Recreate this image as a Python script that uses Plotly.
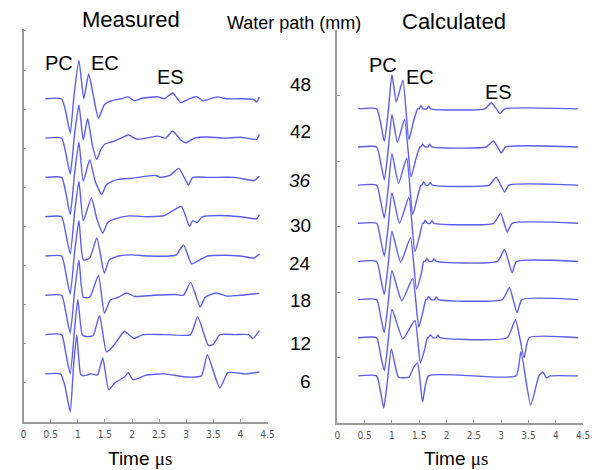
import plotly.graph_objects as go

# ---------------- data (time in microseconds, amplitude in units of trace spacing) ----------------
path_labels = ["6", "12", "18", "24", "30", "<i>36</i>", "42", "48"]
tick_vals = [0, 0.5, 1, 1.5, 2, 2.5, 3, 3.5, 4, 4.5]
tick_text = ["0", "0.5", "1", "1.5", "2", "2.5", "3", "3.5", "4", "4.5"]

# Measured
mt6 = [0.40,0.68,0.76,0.86,0.92,0.98,1.05,1.10,1.25,1.36,1.46,1.57,1.68,1.86,1.93,2.02,2.26,2.60,3.02,3.28,3.39,3.62,3.77,4.10,4.35]
ma6 = [0,0,-0.30,-0.97,0.20,1.00,0.00,-0.05,0.00,-0.03,0.41,-0.41,-0.23,-0.08,0.03,-0.15,-0.03,0.00,-0.08,-0.05,0.49,-0.36,0.03,0.00,0.05]
mt12 = [0.40,0.70,0.78,0.86,0.94,1.00,1.08,1.15,1.28,1.40,1.53,1.66,1.86,2.04,2.20,2.60,3.08,3.21,3.41,3.50,3.62,3.90,4.15,4.23,4.35]
ma12 = [0,0,-0.50,-1.00,0.15,0.90,0.00,-0.05,-0.03,0.49,-0.44,-0.28,0.08,-0.10,0.00,0.00,0.00,0.46,-0.28,-0.25,0.00,0.00,0.00,-0.10,0.10]
mt18 = [0.40,0.70,0.78,0.86,0.94,1.02,1.10,1.22,1.38,1.49,1.60,1.75,1.90,2.05,2.40,2.80,2.95,3.08,3.26,3.35,3.55,3.75,4.00,4.35]
ma18 = [0,0,-0.45,-0.97,0.10,0.90,-0.05,-0.05,0.51,-0.46,-0.12,-0.05,0.06,-0.03,0.00,0.02,0.00,0.33,-0.30,-0.05,0.06,-0.02,0.00,0.05]
mt24 = [0.40,0.70,0.78,0.86,0.94,1.02,1.10,1.22,1.35,1.49,1.58,1.75,2.00,2.30,2.70,2.82,2.95,3.10,3.25,3.40,3.70,4.00,4.25,4.35]
ma24 = [0,0,-0.45,-0.97,0.10,0.90,-0.10,-0.05,0.46,-0.44,-0.10,0.00,0.03,0.00,0.00,0.03,0.28,-0.20,-0.10,0.00,0.02,0.00,-0.05,0.05]
mt30 = [0.40,0.70,0.78,0.86,0.94,1.02,1.10,1.25,1.35,1.46,1.55,1.70,1.95,2.30,2.60,2.91,3.06,3.12,3.20,3.30,3.60,4.00,4.30,4.35]
ma30 = [0,0,-0.45,-0.95,0.10,0.90,-0.10,0.48,-0.05,-0.42,-0.15,-0.05,0.02,0.00,0.03,0.26,-0.25,-0.10,-0.15,0.00,0.03,0.00,-0.05,0.05]
mt36 = [0.40,0.70,0.78,0.86,0.94,1.02,1.10,1.22,1.32,1.44,1.52,1.63,1.75,2.00,2.44,2.52,2.70,2.86,3.00,3.04,3.12,3.40,3.90,4.25,4.35]
ma36 = [0,0,-0.40,-0.95,0.10,0.90,-0.10,0.45,-0.10,-0.44,-0.20,-0.10,-0.05,-0.02,0.05,0.00,0.05,0.23,-0.10,-0.20,0.00,0.00,0.00,-0.08,0.03]
mt42 = [0.40,0.70,0.78,0.86,0.94,1.02,1.10,1.18,1.27,1.35,1.42,1.50,1.62,1.80,1.93,2.10,2.48,2.62,2.75,2.90,2.99,3.15,3.40,3.70,4.00,4.30,4.35]
ma42 = [0,0,-0.40,-0.92,0.10,0.85,-0.05,0.50,-0.20,-0.55,-0.30,-0.15,-0.10,0.00,0.08,-0.03,0.05,0.00,0.18,-0.05,-0.12,0.00,0.03,0.00,0.02,-0.03,0.10]
mt48 = [0.40,0.70,0.78,0.86,0.93,1.02,1.11,1.20,1.29,1.38,1.49,1.62,1.80,1.93,2.04,2.20,2.48,2.60,2.75,2.90,3.05,3.20,3.31,3.57,3.75,4.00,4.25,4.30,4.35]
ma48 = [0,0,-0.35,-0.88,0.10,0.98,0.00,0.64,0.05,-0.50,-0.15,-0.05,0.00,0.05,-0.05,0.02,0.05,0.00,0.15,-0.10,0.00,0.05,-0.05,0.05,0.00,0.00,-0.02,-0.08,0.05]

# Calculated
ct6 = [0.38,0.72,0.79,0.85,0.92,0.99,1.12,1.31,1.40,1.47,1.56,1.67,3.27,3.36,3.54,3.69,3.76,3.83,3.90,4.41]
ca6 = [0,0,-0.40,-0.84,-0.10,0.70,-0.03,-0.03,0.23,0.34,-0.68,0.00,0.00,0.63,-0.76,0.00,0.10,-0.05,0.00,0.00]
ct12 = [0.38,0.72,0.79,0.86,0.93,1.00,1.20,1.42,1.52,1.60,1.65,1.67,1.70,1.75,1.81,1.84,1.88,3.11,3.26,3.42,3.51,4.41]
ca12 = [0,0,-0.44,-0.86,-0.10,0.74,-0.03,0.45,-0.66,-0.30,0.00,0.00,0.08,0.00,0.00,0.07,0.00,0.00,0.47,-0.52,0.00,0.00]
ct18 = [0.38,0.72,0.79,0.86,0.93,1.00,1.18,1.38,1.49,1.57,1.62,1.64,1.67,1.72,1.78,1.81,1.85,3.02,3.15,3.29,3.38,4.41]
ca18 = [0,0,-0.42,-0.86,-0.10,0.76,-0.03,0.55,-0.72,-0.30,0.00,0.00,0.08,0.00,0.00,0.07,0.00,0.00,0.31,-0.34,0.00,0.00]
ct24 = [0.38,0.72,0.79,0.86,0.93,1.00,1.16,1.34,1.45,1.54,1.58,1.61,1.64,1.68,1.74,1.77,1.81,2.93,3.06,3.20,3.28,4.41]
ca24 = [0,0,-0.42,-0.86,-0.10,0.78,-0.02,0.62,-0.72,-0.30,0.00,0.00,0.08,0.00,0.00,0.07,0.00,0.00,0.31,-0.29,0.00,0.00]
ct30 = [0.38,0.72,0.79,0.86,0.93,1.00,1.14,1.31,1.42,1.51,1.56,1.58,1.61,1.65,1.70,1.73,1.77,2.86,2.99,3.11,3.20,4.41]
ca30 = [0,0,-0.40,-0.86,-0.10,0.80,0.00,0.68,-0.74,-0.30,0.00,0.00,0.08,0.00,0.00,0.07,0.00,0.00,0.26,-0.23,0.00,0.00]
ct36 = [0.38,0.72,0.79,0.86,0.93,1.00,1.12,1.27,1.38,1.47,1.53,1.55,1.58,1.62,1.67,1.70,1.74,2.78,2.91,3.06,3.14,4.41]
ca36 = [0,0,-0.40,-0.86,-0.10,0.82,0.05,0.70,-0.76,-0.30,0.00,0.00,0.08,0.00,0.00,0.07,0.00,0.00,0.21,-0.18,0.00,0.00]
ct42 = [0.38,0.72,0.79,0.86,0.93,1.00,1.10,1.23,1.35,1.44,1.51,1.53,1.56,1.60,1.66,1.69,1.73,2.72,2.86,3.00,3.08,4.41]
ca42 = [0,0,-0.38,-0.86,-0.10,0.85,0.12,0.72,-0.78,-0.30,0.00,0.00,0.08,0.00,0.00,0.07,0.00,0.00,0.16,-0.16,0.00,0.00]
ct48 = [0.38,0.72,0.79,0.86,0.93,1.00,1.08,1.20,1.31,1.40,1.47,1.50,1.53,1.57,1.64,1.67,1.71,2.70,2.82,2.98,3.06,4.41]
ca48 = [0,0,-0.35,-0.85,-0.10,0.89,0.18,0.75,-0.80,-0.30,0.00,0.00,0.08,0.00,0.00,0.07,0.00,0.00,0.16,-0.12,0.00,0.00]

meas = [(mt6, ma6), (mt12, ma12), (mt18, ma18), (mt24, ma24), (mt30, ma30), (mt36, ma36), (mt42, ma42), (mt48, ma48)]
calc = [(ct6, ca6), (ct12, ca12), (ct18, ca18), (ct24, ca24), (ct30, ca30), (ct36, ca36), (ct42, ca42), (ct48, ca48)]

# ---------------- layout constants ----------------
W, H = 599, 470
LEFT_BASE, LEFT_STEP = 1.23, 1.005
RIGHT_BASE, RIGHT_STEP = 1.23, 0.996
LINE = dict(color="rgb(92,92,245)", width=1.4, shape="spline", smoothing=0.5)
AX = "#9a9a9a"

def px(x):
    return x / W

def py(y):
    return 1 - y / H

fig = go.Figure()
for i, (t, a) in enumerate(meas):
    off = LEFT_BASE + i * LEFT_STEP
    fig.add_trace(go.Scatter(x=t, y=[off + v for v in a], mode="lines", line=LINE,
                             xaxis="x", yaxis="y", showlegend=False, hoverinfo="skip"))
for i, (t, a) in enumerate(calc):
    off = RIGHT_BASE + i * RIGHT_STEP
    fig.add_trace(go.Scatter(x=t, y=[off + v for v in a], mode="lines", line=LINE,
                             xaxis="x2", yaxis="y2", showlegend=False, hoverinfo="skip"))

xcommon = dict(range=[0, 4.5], tickvals=tick_vals, ticktext=tick_text, ticks="inside", ticklen=3,
               tickcolor=AX, showline=True, linecolor=AX, linewidth=1.5, showgrid=False,
               zeroline=False, tickfont=dict(family="Liberation Sans Narrow, DejaVu Sans Condensed, sans-serif",
                                              size=10, color="#555"), ticklabelstandoff=2,
               ticklabeloverflow="allow")
ycommon = dict(ticks="inside", ticklen=3, tickcolor=AX, showline=True, linecolor=AX, linewidth=1.5,
               showgrid=False, zeroline=False, showticklabels=False)

fig.update_layout(
    width=W, height=H, margin=dict(l=0, r=0, t=0, b=0),
    paper_bgcolor="white", plot_bgcolor="white",
    xaxis=dict(domain=[px(21), px(269)], anchor="y", **xcommon),
    yaxis=dict(domain=[py(422), py(29)], anchor="x", range=[0, 10.05],
               tickvals=[1, 2, 3, 4, 5, 6, 7, 8, 9, 10], **ycommon),
    xaxis2=dict(domain=[px(340), px(590)], anchor="y2", **xcommon),
    yaxis2=dict(domain=[py(423), py(30)], anchor="x2", range=[0, 10.26],
                tickvals=[1.71, 3.42, 5.13, 6.84, 8.55, 10.26], **ycommon),
)

FONT = "Liberation Sans, Arial, sans-serif"
def note(text, x, y, size, xanchor="center", yanchor="middle"):
    fig.add_annotation(text=text, x=px(x), y=py(y), xref="paper", yref="paper",
                       showarrow=False, xanchor=xanchor, yanchor=yanchor, borderpad=0,
                       font=dict(family=FONT, size=size, color="black"))

note("Measured", 130, 20, 22)
note("Water path (mm)", 296, 23, 18)
note("Calculated", 459, 21, 22)
note("PC", 57, 63, 20)
note("EC", 104, 63, 20)
note("ES", 170, 77, 20)
note("PC", 386, 65, 20)
note("EC", 424, 77, 20)
note("ES", 504, 92, 20)

label_ypx = [381, 343, 300, 263, 226, 180, 132, 84]
for lab, yy in zip(path_labels, label_ypx):
    note(lab, 314, yy, 19, xanchor="right")

note('Time <span style="font-family:Liberation Serif">μs</span>', 139, 458, 19)
note('Time <span style="font-family:Liberation Serif">μs</span>', 461, 458, 19)

# remove the browser's default page margin/scrollbars so the figure fills the window exactly
fig.write_html(
    "out.html",
    config={"displayModeBar": False},
    post_script="document.body.style.margin='0';document.body.style.overflow='hidden';"
                "document.documentElement.style.overflow='hidden';",
)
